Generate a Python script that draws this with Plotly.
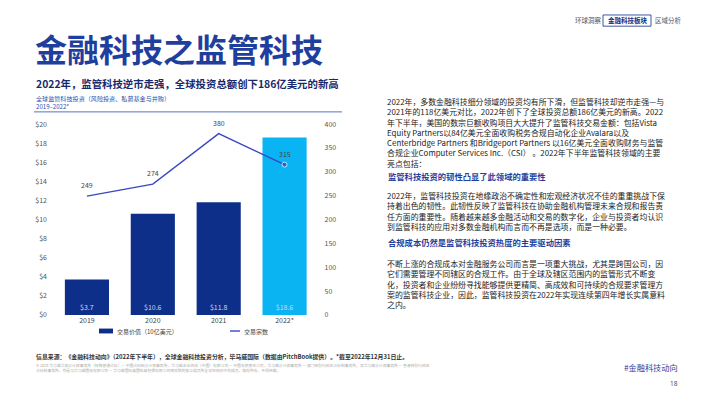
import plotly.graph_objects as go

# ---- data ----
years = ["2019", "2020", "2021", "2022*"]
deal_value = [3.7, 10.6, 11.8, 18.6]          # 交易价值（10亿美元）
deal_count = [249, 274, 380, 315]             # 交易宗数
value_labels = ["$3.7", "$10.6", "$11.8", "$18.6"]
left_ticks = [0, 2, 4, 6, 8, 10, 12, 14, 16, 18, 20]
left_ticktext = ["$" + str(v) for v in left_ticks]
right_ticks = [0, 50, 100, 150, 200, 250, 300, 350, 400]

# the page body has an 8px margin, so the figure is placed at (8, 8)
OFF = 8
W, H = 702, 383
FONT = "Noto Sans CJK SC"
NAVY = "#0d2f8a"
CYAN = "#0ab4f2"
LINE = "#3b48c2"
TITLE_BLUE = "#1f3f9e"

def px(x):
    return (x - OFF) / W

def py(y):
    return 1 - (y - OFF) / H

fig = go.Figure()

bar_colors = [NAVY, NAVY, NAVY, CYAN]
fig.add_trace(go.Bar(
    x=years, y=deal_value, marker=dict(color=bar_colors, line=dict(width=0)),
    width=0.67, text=value_labels, textposition="inside", insidetextanchor="start",
    textfont=dict(family=FONT, size=7, color="#c9d6ee"), textangle=0,
    name="交易价值（10亿美元）", showlegend=False, cliponaxis=False,
))
fig.add_trace(go.Scatter(
    x=years, y=deal_count, yaxis="y2", mode="lines+markers",
    line=dict(color=LINE, width=1.4),
    marker=dict(size=[0, 0, 0, 5], color=LINE),
    name="交易宗数", showlegend=False, cliponaxis=False,
))

fig.update_layout(
    width=W, height=H, margin=dict(l=0, r=0, t=0, b=0),
    paper_bgcolor="white", plot_bgcolor="white",
    font=dict(family=FONT, color="#333333"),
    xaxis=dict(type="category", categoryorder="array", categoryarray=years,
               range=[-0.5, 3.5],
               domain=[px(54), px(317.5)], showgrid=False, zeroline=False,
               showline=False, ticks="", tickfont=dict(size=7, color="#444444"),
               ticklen=0),
    yaxis=dict(range=[0, 20], tickvals=left_ticks, ticktext=left_ticktext,
               domain=[py(317), py(121)], showgrid=False, zeroline=False,
               showline=False, tickfont=dict(size=7, color="#555555"),
               ticklabelstandoff=6),
    yaxis2=dict(range=[0, 400], tickvals=right_ticks, overlaying="y", side="right",
                showgrid=False, zeroline=False, showline=False,
                tickfont=dict(size=7, color="#555555"), ticklabelstandoff=6),
)

ann = []
def text(x, y, s, size, color="#333333", bold=False, anchor="left", family=FONT):
    if bold:
        s = "<b>" + s + "</b>"
    ann.append(dict(x=px(x), y=py(y), xref="paper", yref="paper", text=s,
                    showarrow=False, xanchor=anchor, yanchor="middle", align="left",
                    font=dict(family=family, size=size, color=color)))

def para(x, y_top, lines, size, color="#222222"):
    ann.append(dict(x=px(x), y=py(y_top), xref="paper", yref="paper",
                    text="<br>".join(lines), showarrow=False, xanchor="left",
                    yanchor="top", align="left",
                    font=dict(family=FONT, size=size, color=color)))

# data labels of the line (count values)
for i, c in enumerate(deal_count):
    ann.append(dict(x=i, y=c, xref="x", yref="y2", text=str(c), showarrow=False,
                    yshift=11, xanchor="center", yanchor="middle",
                    font=dict(family=FONT, size=7, color="#444444")))

# header nav
text(573, 14.5, "环球洞察", 6.5, "#555555")
text(606, 14.5, "金融科技板块", 6.5, NAVY, bold=True)
text(653, 14.5, "区域分析", 6.5, "#555555")

# titles
text(33, 43, "金融科技之监管科技", 32, TITLE_BLUE, bold=True)
text(34, 79, "2022年，监管科技逆市走强，全球投资总额创下186亿美元的新高", 10.4, "#17296b", bold=True)
text(34, 95, "全球监管科技投资（风险投资、私募基金与并购）", 6.1, "#2a4fb0")
text(34, 103, "2019–2022*", 6.1, "#2a4fb0")

# legend
text(115, 333.5, "交易价值（10亿美元）", 6, "#444444")
text(242, 333.5, "交易宗数", 6, "#444444")

# right column body
body1 = [
    "2022年，多数金融科技细分领域的投资均有所下滑，但监管科技却逆市走强—与",
    "2021年的118亿美元对比，2022年创下了全球投资总额186亿美元的新高。2022",
    "年下半年，美国的数宗巨额收购项目大大提升了监管科技交易金额：包括Vista",
    "Equity Partners以84亿美元全面收购税务合规自动化企业Avalara以及",
    "Centerbridge Partners 和Bridgeport Partners 以16亿美元全面收购财务与监管",
    "合规企业Computer Services Inc.（CSI） 。2022年下半年监管科技领域的主要",
    "亮点包括：",
]
para(385, 90, body1, 7.9)
text(386, 174, "监管科技投资的韧性凸显了此领域的重要性", 8.3, "#1f3f9e", bold=True)
body2 = [
    "2022年，监管科技投资在地缘政治不确定性和宏观经济状况不佳的重重挑战下保",
    "持着出色的韧性。此韧性反映了监管科技在协助金融机构管理未来合规和报告责",
    "任方面的重要性。随着越来越多金融活动和交易的数字化，企业与投资者均认识",
    "到监管科技的应用对多数金融机构而言而不再是选项，而是一种必要。",
]
para(385, 187, body2, 7.9)
text(386, 242, "合规成本仍然是监管科技投资热度的主要驱动因素", 8.3, "#1f3f9e", bold=True)
body3 = [
    "不断上涨的合规成本对金融服务公司而言是一项重大挑战，尤其是跨国公司，因",
    "它们需要管理不同辖区的合规工作。由于全球及辖区范围内的监管形式不断变",
    "化，投资者和企业纷纷寻找能够提供更精简、高成效和可持续的合规要求管理方",
    "案的监管科技企业，因此，监管科技投资在2022年实现连续第四年增长实属意料",
    "之内。",
]
para(385, 256, body3, 7.9)

# footer
text(34, 360, "信息来源：《金融科技动向》（2022年下半年），全球金融科技投资分析，毕马威国际（数据由PitchBook提供）。*截至2022年12月31日止。",
     5.9, "#333333", bold=True)
para(34, 364, [
    "© 2023 毕马威华振会计师事务所（特殊普通合伙）— 中国合伙制会计师事务所，毕马威企业咨询（中国）有限公司 — 中国有限责任公司，毕马威会计师事务所 — 澳门特别行政区合伙制事务所，及毕马威会计师事务所 — 香港特别行政区",
    "合伙制事务所，均是与毕马威国际有限公司 — 毕马威国际英国私营担保有限公司相关联的独立成员所全球性组织中的成员。版权所有，不得转载。",
], 3.8, "#aaaaaa")
text(622, 370, "#金融科技动向", 8.2, "#1f3f9e")
text(680, 387.5, "18", 6.5, "#444444", anchor="right", family="Open Sans")

fig.update_layout(annotations=ann)

shapes = [
    # nav box
    dict(type="rect", xref="paper", yref="paper", x0=px(603), x1=px(651), y0=py(9), y1=py(20.5),
         line=dict(color=NAVY, width=0.8), fillcolor="rgba(0,0,0,0)"),
    # rule under chart subtitle
    dict(type="line", xref="paper", yref="paper", x0=px(34), x1=px(342), y0=py(108.5), y1=py(108.5),
         line=dict(color="#2a4fb0", width=0.8)),
    # legend swatches
    dict(type="rect", xref="paper", yref="paper", x0=px(99), x1=px(113), y0=py(331), y1=py(336),
         line=dict(width=0), fillcolor=NAVY),
    dict(type="line", xref="paper", yref="paper", x0=px(230), x1=px(240), y0=py(333.5), y1=py(333.5),
         line=dict(color=LINE, width=1.4)),
]
fig.update_layout(shapes=shapes)

fig.write_html("out.html")
